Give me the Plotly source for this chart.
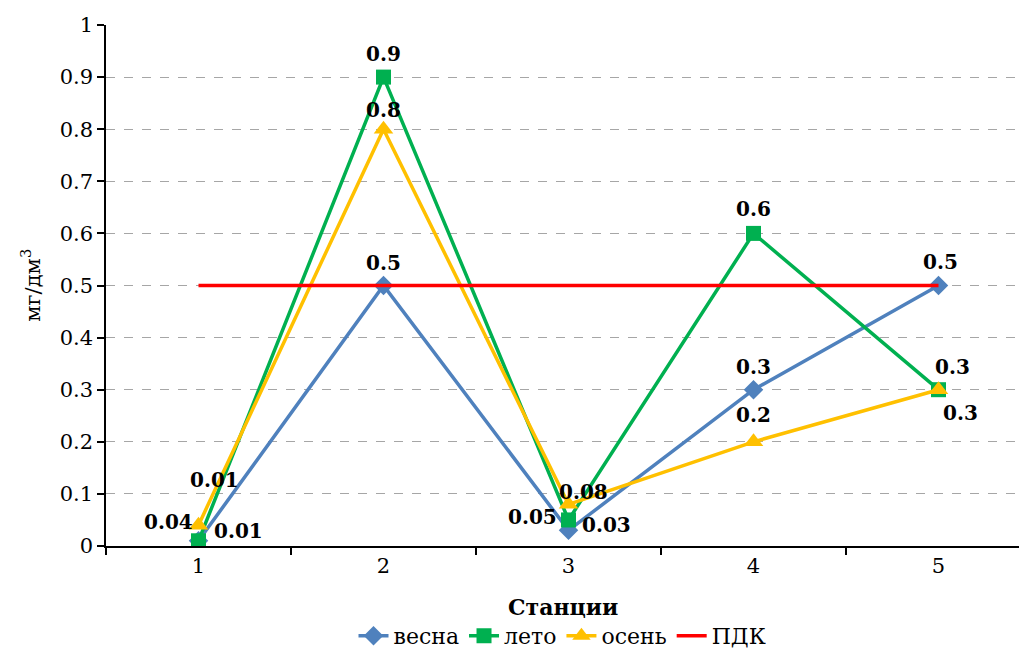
import plotly.graph_objects as go

# Stations and seasonal concentrations, mg/dm3
stations = ["1", "2", "3", "4", "5"]
vesna = [0.01, 0.5, 0.03, 0.3, 0.5]
leto = [0.01, 0.9, 0.05, 0.6, 0.3]
osen = [0.04, 0.8, 0.08, 0.2, 0.3]
pdk = [0.5, 0.5, 0.5, 0.5, 0.5]
y_ticks = [0, 0.1, 0.2, 0.3, 0.4, 0.5, 0.6, 0.7, 0.8, 0.9, 1]

FONT = "DejaVu Serif"
BLUE = "#4F81BD"
GREEN = "#00B050"
YELLOW = "#FFC000"
RED = "#FF0000"

fig = go.Figure()

fig.add_trace(go.Scatter(
    x=stations, y=vesna, name="весна", mode="lines+markers",
    line=dict(color=BLUE, width=3.5),
    marker=dict(symbol="diamond", size=15, color=BLUE),
))
fig.add_trace(go.Scatter(
    x=stations, y=leto, name="лето", mode="lines+markers",
    line=dict(color=GREEN, width=3.5),
    marker=dict(symbol="square", size=15, color=GREEN),
))
fig.add_trace(go.Scatter(
    x=stations, y=osen, name="осень", mode="lines+markers",
    line=dict(color=YELLOW, width=3.5),
    marker=dict(symbol="triangle-up", size=17, color=YELLOW),
))
fig.add_trace(go.Scatter(
    x=stations, y=pdk, name="ПДК", mode="lines",
    line=dict(color=RED, width=3.5),
))

# Data label offsets (pixels) per series and station
offsets = {
    "vesna": [(40, 10), (0, 23), (38, 5), (0, 23), (2, 24)],
    "leto": [(16, 61), (0, 23), (-36, 3), (0, 24), (14, 23)],
    "osen": [(-30, 3), (0, 19), (15, 12), (0, 27), (22, -23)],
}
series = {"vesna": vesna, "leto": leto, "osen": osen}

annotations = []
for key, vals in series.items():
    for idx, (v, (dx, dy)) in enumerate(zip(vals, offsets[key])):
        annotations.append(dict(
            x=idx, y=v, xref="x", yref="y", text=f"<b>{v:g}</b>",
            showarrow=False, xshift=dx, yshift=dy,
            font=dict(family=FONT, size=20, color="black"),
        ))

annotations.append(dict(
    x=0.5, y=-0.117, xref="paper", yref="paper", text="<b>Станции</b>",
    showarrow=False, xanchor="center", yanchor="middle",
    font=dict(family=FONT, size=22, color="black"),
))
annotations.append(dict(
    x=-0.083, y=0.5, xref="paper", yref="paper", text="мг/дм<sup>3</sup>",
    showarrow=False, textangle=-90, xanchor="center", yanchor="middle",
    font=dict(family=FONT, size=21, color="black"),
))

fig.update_layout(
    width=1019, height=651,
    margin=dict(l=106, r=0, t=25, b=105, autoexpand=False),
    paper_bgcolor="white", plot_bgcolor="white",
    font=dict(family=FONT, size=21, color="black"),
    showlegend=True,
    legend=dict(
        orientation="h", x=0.5, xanchor="center",
        yref="container", y=0.023, yanchor="middle",
        font=dict(family=FONT, size=22, color="black"),
        itemwidth=30, tracegroupgap=0,
    ),
    annotations=annotations,
    xaxis=dict(
        type="category", range=[-0.5, 4.435],
        tickson="boundaries", ticks="outside", ticklen=7, tickwidth=1.5,
        tickcolor="black", showline=True, linecolor="black", linewidth=1.5,
        showgrid=False, zeroline=False,
        tickfont=dict(family=FONT, size=21),
    ),
    yaxis=dict(
        range=[0, 1], tickvals=y_ticks, ticktext=[f"{t:g}" for t in y_ticks],
        ticks="outside", ticklen=7, tickwidth=1.5, tickcolor="black",
        showline=True, linecolor="black", linewidth=1.5,
        showgrid=True, gridcolor="#A6A6A6", gridwidth=1, griddash="dash",
        zeroline=False, tickfont=dict(family=FONT, size=21),
    ),
)

fig.write_html("out.html")
